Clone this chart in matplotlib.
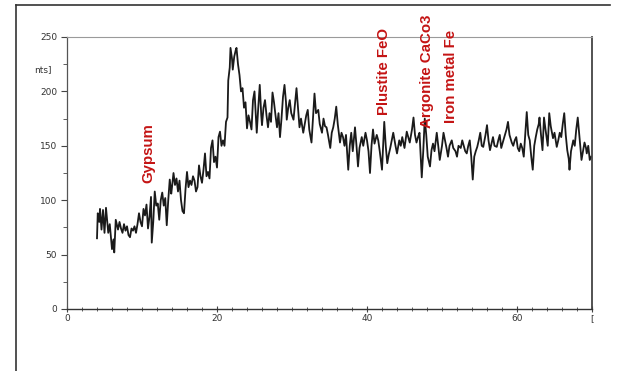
import matplotlib
matplotlib.use("Agg")
import matplotlib.pyplot as plt
from matplotlib.lines import Line2D
from matplotlib.ticker import MultipleLocator, FixedLocator

# XRD scan (2-theta in degrees, intensity in counts)
two_theta = [
    4.0, 4.1, 4.3, 4.4, 4.6, 4.8, 5.0, 5.2, 5.3, 5.5, 5.7, 5.9, 6.0, 6.2, 6.3, 6.5,
    6.7, 6.8, 7.0, 7.2, 7.4, 7.6, 7.8, 8.0, 8.2, 8.4, 8.6, 8.8, 9.0, 9.2, 9.4, 9.6,
    9.8, 10.0, 10.2, 10.4, 10.6, 10.8, 11.0, 11.2, 11.3, 11.5, 11.7, 11.9, 12.1, 12.3,
    12.5, 12.7, 12.9, 13.1, 13.3, 13.5, 13.7, 13.9, 14.0, 14.2, 14.4, 14.6, 14.8, 15.0,
    15.2, 15.4, 15.6, 15.8, 16.0, 16.2, 16.4, 16.6, 16.8, 17.0, 17.2, 17.4, 17.6, 17.8,
    18.0, 18.2, 18.4, 18.6, 18.8, 19.0, 19.2, 19.4, 19.6, 19.8, 20.0, 20.2, 20.4, 20.6,
    20.8, 21.0, 21.2, 21.4, 21.5, 21.7, 21.8, 22.0, 22.1, 22.3, 22.5, 22.6, 22.8, 23.0,
    23.2, 23.4, 23.6, 23.8, 24.0, 24.2, 24.4, 24.6, 24.8, 25.0, 25.2, 25.3, 25.5, 25.7,
    25.9, 26.0, 26.2, 26.4, 26.6, 26.8, 27.0, 27.2, 27.4, 27.6, 27.8, 28.0, 28.2, 28.4,
    28.6, 28.8, 29.0, 29.2, 29.3, 29.5, 29.7, 29.9, 30.2, 30.4, 30.6, 30.8, 31.0, 31.2,
    31.5, 31.7, 31.9, 32.1, 32.3, 32.6, 32.8, 33.0, 33.2, 33.5, 33.7, 34.0, 34.2, 34.4,
    34.6, 34.8, 35.1, 35.3, 35.5, 35.7, 35.9, 36.1, 36.4, 36.6, 36.8, 37.0, 37.2, 37.5,
    37.7, 37.9, 38.1, 38.4, 38.6, 38.8, 39.0, 39.3, 39.5, 39.8, 40.0, 40.2, 40.4, 40.6,
    40.8, 41.0, 41.3, 41.5, 41.7, 42.0, 42.3, 42.5, 42.7, 42.9, 43.1, 43.3, 43.5, 43.8,
    44.0, 44.3, 44.5, 44.7, 45.0, 45.3, 45.5, 45.7, 46.0, 46.2, 46.4, 46.6, 46.8, 47.0,
    47.3, 47.5, 47.7, 47.9, 48.1, 48.4, 48.6, 48.8, 49.0, 49.3, 49.5, 49.7, 50.0, 50.2,
    50.4, 50.6, 50.8, 51.0, 51.3, 51.5, 51.8, 52.0, 52.2, 52.5, 52.7, 52.9, 53.1, 53.3,
    53.5, 53.7, 53.9, 54.1, 54.3, 54.5, 54.7, 54.9, 55.1, 55.3, 55.5, 55.8, 56.0, 56.2,
    56.4, 56.6, 56.8, 57.0, 57.3, 57.5, 57.7, 57.9, 58.1, 58.4, 58.6, 58.8, 59.0, 59.3,
    59.5, 59.7, 59.9, 60.1, 60.3, 60.5, 60.7, 60.9, 61.1, 61.3, 61.5, 61.7, 61.9, 62.1,
    62.3, 62.5, 62.7, 62.9, 63.0, 63.2, 63.4, 63.6, 63.8, 64.0, 64.1, 64.3, 64.5, 64.8,
    65.0, 65.3, 65.5, 65.7, 65.9, 66.1, 66.3, 66.5, 66.7, 66.9, 67.0, 67.2, 67.5, 67.7,
    67.9, 68.1, 68.3, 68.6, 68.8, 69.0, 69.2, 69.3, 69.5, 69.7, 69.9,
]
counts = [
    65, 88, 80, 92, 73, 91, 70, 93, 85, 70, 78, 62, 55, 64, 52, 82,
    76, 73, 80, 74, 70, 78, 72, 76, 68, 66, 74, 72, 76, 70, 78, 88,
    80, 76, 92, 86, 96, 74, 85, 103, 61, 80, 108, 95, 97, 82,
    100, 107, 95, 102, 77, 100, 119, 106, 112, 125, 114, 120, 108, 118,
    100, 90, 88, 110, 126, 112, 118, 114, 122, 118, 108, 112, 132, 122,
    116, 128, 143, 122, 126, 120, 148, 155, 135, 140, 130, 158, 163, 150,
    155, 150, 172, 176, 210, 222, 240, 230, 220, 232, 238, 240, 225, 215,
    200, 203, 185, 190, 166, 178, 172, 165, 192, 200, 175, 162, 185, 206,
    178, 169, 185, 192, 178, 167, 180, 172, 199, 190, 178, 167, 180, 158,
    175, 195, 206, 190, 174, 185, 192, 180, 174, 188, 203, 185, 167, 175,
    162, 170, 178, 183, 165, 153, 175, 198, 180, 183, 170, 162, 175, 168,
    167, 160, 148, 162, 167, 175, 186, 170, 153, 162, 158, 150, 160, 128,
    150, 162, 145, 167, 150, 131, 148, 158, 150, 162, 155, 145, 125, 150,
    165, 152, 160, 155, 145, 128, 172, 150, 134, 142, 148, 155, 162, 150,
    143, 155, 150, 158, 148, 163, 158, 153, 165, 176, 160, 153, 158, 162,
    121, 145, 175, 160, 140, 131, 146, 152, 145, 162, 150, 137, 150, 162,
    155, 148, 140, 150, 155, 148, 145, 140, 150, 148, 155, 150, 145, 143,
    150, 155, 140, 119, 140, 145, 149, 155, 162, 150, 149, 160, 169, 155,
    146, 152, 158, 150, 149, 155, 160, 148, 153, 160, 165, 172, 160, 153,
    150, 155, 158, 148, 145, 152, 148, 140, 160, 181, 160, 155, 140, 128,
    150, 158, 165, 170, 176, 160, 146, 176, 165, 155, 150, 180, 168, 157,
    162, 149, 155, 162, 158, 170, 180, 160, 146, 138, 128, 145, 155, 150,
    165, 176, 160, 137, 145, 153, 148, 143, 150, 137, 140,
]

y_ticks = [0, 50, 100, 150, 200, 250]
x_ticks = [0, 20, 40, 60, 70]
x_tick_labels = ["0", "20", "40", "60", "["]

# phase labels: (text, 2-theta, counts at the lower end of the label)
phases = [
    ("Gypsum", 10.9, 116),
    ("Plustite FeO", 42.3, 178),
    ("Argonite CaCo3", 48.0, 166),
    ("Iron metal Fe", 51.2, 171),
]

fig = plt.figure(figsize=(6.17, 3.71), dpi=100)
ax = fig.add_axes([67 / 617, 1 - 309 / 371, (592 - 67) / 617, (309 - 37) / 371])

ax.plot(two_theta, counts, color="#1a1a1a", lw=1.3)

ax.set_xlim(0, 70)
ax.set_ylim(0, 250)

ax.set_yticks(y_ticks)
ax.yaxis.set_minor_locator(MultipleLocator(25))
ax.set_xticks(x_ticks)
ax.set_xticklabels(x_tick_labels)
ax.xaxis.set_minor_locator(FixedLocator([v for v in range(2, 70, 2) if v % 20]))

tick_font = dict(labelsize=6.5, labelcolor="#333333", colors="#444444")
ax.tick_params(axis="y", which="major", direction="out", length=4, width=0.8, pad=3, **tick_font)
ax.tick_params(axis="y", which="minor", direction="out", length=3, width=0.6, colors="#444444")
ax.tick_params(axis="x", which="major", direction="inout", length=5, width=0.8, pad=1, **tick_font)
ax.tick_params(axis="x", which="minor", direction="inout", length=3, width=0.6, colors="#444444")

ax.spines["top"].set_color("#9a9a9a")
ax.spines["top"].set_linewidth(0.8)
ax.spines["left"].set_color("#555555")
ax.spines["left"].set_linewidth(0.9)
ax.spines["bottom"].set_color("#333333")
ax.spines["bottom"].set_linewidth(1.0)
ax.spines["right"].set_color("#444444")
ax.spines["right"].set_linewidth(1.3)

# truncated axis title ("[Counts]") left in the scan
ax.text(-2.0, 220, "nts]", ha="right", va="center", fontsize=6.5, color="#333333")

for name, tx, ty in phases:
    ax.text(tx, ty, name, rotation=90, ha="center", va="bottom",
            fontsize=10.8, fontweight="bold", color="#c41414",
            family=["Liberation Sans", "DejaVu Sans"])

# outer frame of the scanned page
fig.add_artist(Line2D([16 / 617, 16 / 617], [0, 1 - 5 / 371], color="#333333", lw=1.2))
fig.add_artist(Line2D([16 / 617, 610 / 617], [1 - 5 / 371, 1 - 5 / 371], color="#333333", lw=1.2))

fig.savefig("out.png", dpi=100)
